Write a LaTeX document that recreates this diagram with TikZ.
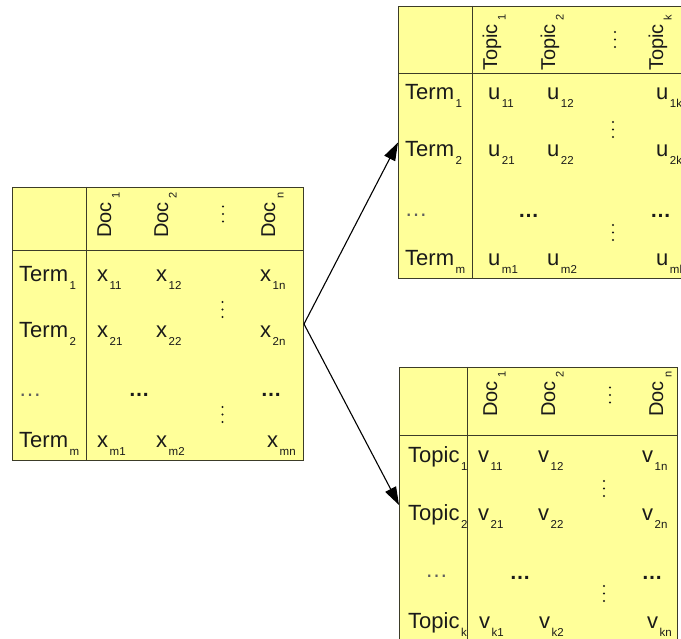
\documentclass[tikz,border=0pt]{standalone}
\usepackage{fontspec}
\setmainfont{Liberation Sans}
\usetikzlibrary{arrows.meta}
\definecolor{yel}{HTML}{FFFF99}
\definecolor{bord}{HTML}{3C3C28}
\definecolor{txt}{HTML}{1A1A1A}
\newcommand\subx[1]{\kern1.5pt\raisebox{-8pt}{\fontsize{11.5}{12}\selectfont #1}}
\newcommand\subh[1]{\kern3.5pt\raisebox{-8.5pt}{\fontsize{11}{12}\selectfont #1}}
\begin{document}
\begin{tikzpicture}[x=1pt,y=-1pt,
 mbox/.style={draw=bord, fill=yel, line width=1pt, inner sep=0, anchor=north west},
 divl/.style={draw=bord, line width=1pt},
 cell/.style={anchor=base west, inner sep=0, text=txt, font=\fontsize{22}{25}\selectfont},
 hdr/.style={rotate=90, anchor=base west, inner sep=0, text=txt, font=\fontsize{20}{22}\selectfont},
 bell/.style={anchor=center, inner sep=0, text=txt, font=\bfseries\fontsize{21}{25}\selectfont},
 tell/.style={anchor=center, inner sep=0, text=txt!70, font=\fontsize{23}{25}\selectfont},
 vd/.pic={\fill[txt] (0,-7.5) circle (1.1) (0,0) circle (1.1) (0,7.5) circle (1.1);},
 conn/.style={-{Triangle[length=18pt,width=12pt]}, line width=1.1pt, draw=black}]
\useasboundingbox (0,0) rectangle (681,639);
\clip (0,0) rectangle (681,639);
\fill[white] (0,0) rectangle (681,639);

% boxes
\node[mbox, minimum width=291pt, minimum height=273pt] (A) at (12,187) {};
\node[mbox, minimum width=290pt, minimum height=272pt] (U) at (398,6) {};
\node[mbox, minimum width=278pt, minimum height=275pt] (V) at (399,367) {};

% ---- left matrix
\node[hdr] (a-h1) at (111,238) {Doc\subh{1}};
\node[hdr] (a-h2) at (168,238) {Doc\subh{2}};
\node[hdr] (a-hn) at (275,238) {Doc\subh{n}};
\pic at (223,214) {vd};
\node[cell] (a-r1) at (19,282) {Term\subx{1}};
\node[cell] (a-r2) at (19,338) {Term\subx{2}};
\node[tell] (a-rd) at (30,395) {…};
\node[cell] (a-rm) at (19,447) {Term\subx{m}};
\node[cell] (a-11) at (97,282) {x\subx{11}};
\node[cell] (a-12) at (156,282) {x\subx{12}};
\node[cell] (a-1n) at (260,282) {x\subx{1n}};
\node[cell] (a-21) at (97,338) {x\subx{21}};
\node[cell] (a-22) at (156,338) {x\subx{22}};
\node[cell] (a-2n) at (260,338) {x\subx{2n}};
\node[bell] (a-d2) at (139,395) {…};
\node[bell] (a-dn) at (271,395) {…};
\node[cell] (a-m1) at (97,447) {x\subx{m1}};
\node[cell] (a-m2) at (156,447) {x\subx{m2}};
\node[cell] (a-mn) at (267,447) {x\subx{mn}};
\pic at (222.5,309.5) {vd};
\pic at (222.5,414.5) {vd};

% ---- top right matrix
\node[hdr] (u-h1) at (497,71) {Topic\subh{1}};
\node[hdr] (u-h2) at (555,71) {Topic\subh{2}};
\node[hdr] (u-hk) at (663,71) {Topic\subh{k}};
\pic at (615,39.5) {vd};
\node[cell] (u-r1) at (405,100) {Term\subx{1}};
\node[cell] (u-r2) at (405,157) {Term\subx{2}};
\node[tell] (u-rd) at (416,215) {…};
\node[cell] (u-rm) at (405,265.5) {Term\subx{m}};
\node[cell] (u-11) at (488,100) {u\subx{11}};
\node[cell] (u-12) at (547,100) {u\subx{12}};
\node[cell] (u-1k) at (656,100) {u\subx{1k}};
\node[cell] (u-21) at (488,157) {u\subx{21}};
\node[cell] (u-22) at (547,157) {u\subx{22}};
\node[cell] (u-2k) at (656,157) {u\subx{2k}};
\node[bell] (u-d2) at (528.5,216) {…};
\node[bell] (u-dk) at (660.5,216) {…};
\node[cell] (u-m1) at (488,265.5) {u\subx{m1}};
\node[cell] (u-m2) at (547,265.5) {u\subx{m2}};
\node[cell] (u-mk) at (656,265.5) {u\subx{mk}};
\pic at (613,129.5) {vd};
\pic at (613,232.5) {vd};

% ---- bottom right matrix
\node[hdr] (v-h1) at (497,417) {Doc\subh{1}};
\node[hdr] (v-h2) at (555,417) {Doc\subh{2}};
\node[hdr] (v-hn) at (663,417) {Doc\subh{n}};
\pic at (610,395) {vd};
\node[cell] (v-r1) at (408,463) {Topic\subx{1}};
\node[cell] (v-r2) at (408,520) {Topic\subx{2}};
\node[tell] (v-rd) at (436.5,576) {…};
\node[cell] (v-rk) at (408,628) {Topic\subx{k}};
\node[cell] (v-11) at (478,463) {v\subx{11}};
\node[cell] (v-12) at (538,463) {v\subx{12}};
\node[cell] (v-1n) at (642,463) {v\subx{1n}};
\node[cell] (v-21) at (478,520) {v\subx{21}};
\node[cell] (v-22) at (538,520) {v\subx{22}};
\node[cell] (v-2n) at (642,520) {v\subx{2n}};
\node[bell] (v-d2) at (520,578) {…};
\node[bell] (v-dn) at (652,578) {…};
\node[cell] (v-k1) at (479,628) {v\subx{k1}};
\node[cell] (v-k2) at (539,628) {v\subx{k2}};
\node[cell] (v-kn) at (647,628) {v\subx{kn}};
\pic at (604,488.5) {vd};
\pic at (604,593.5) {vd};

% dividers
\draw[divl] ([xshift=74pt]A.north west) -- ([xshift=74pt]A.south west);
\draw[divl] ([yshift=-64pt]A.north west) -- ([yshift=-64pt]A.north east);
\draw[divl] ([xshift=74pt]U.north west) -- ([xshift=74pt]U.south west);
\draw[divl] ([yshift=-68pt]U.north west) -- ([yshift=-68pt]U.north east);
\draw[divl] ([xshift=68pt]V.north west) -- ([xshift=68pt]V.south west);
\draw[divl] ([yshift=-69pt]V.north west) -- ([yshift=-69pt]V.north east);

% connectors
\draw[conn] (A.east) -- (U.west);
\draw[conn] (A.east) -- (V.west);
\end{tikzpicture}
\end{document}
